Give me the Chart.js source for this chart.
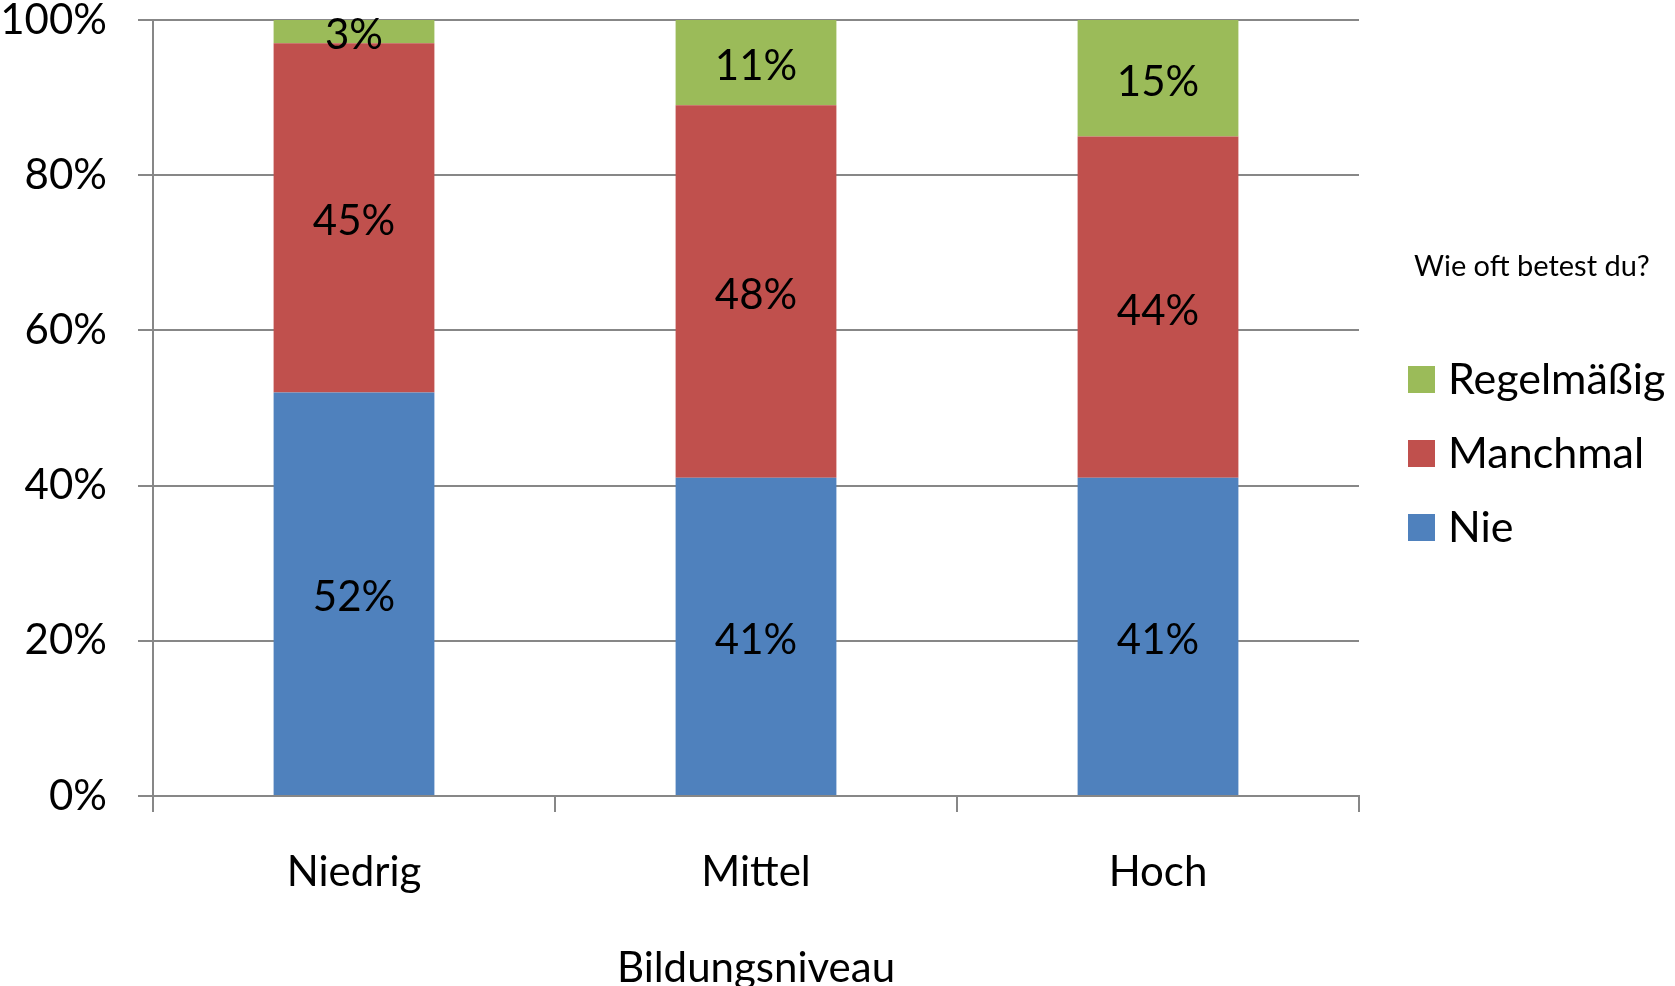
<!DOCTYPE html>
<html>
<head>
<meta charset="utf-8">
<script src="https://cdn.jsdelivr.net/npm/chart.js@4"></script>
<style>
  body { margin: 0; background: #fff; }
  #wrap { width: 1675px; height: 986px; position: relative; }
</style>
</head>
<body>
<div id="wrap"><canvas id="chart"></canvas></div>
<script>
// DATEN
const kategorien = ['Niedrig', 'Mittel', 'Hoch'];
const nie = [52, 41, 41];
const manchmal = [45, 48, 44];
const regelmaessig = [3, 11, 15];
const yTicks = [0, 20, 40, 60, 80, 100];

const schrift = 'Lato, "Open Sans", sans-serif';
const grau = '#878787';

// Beschriftung in den Balken
const balkenLabels = {
  id: 'balkenLabels',
  afterDatasetsDraw(chart) {
    const ctx = chart.ctx;
    ctx.save();
    ctx.font = '42px ' + schrift;
    ctx.fillStyle = '#000';
    ctx.textAlign = 'center';
    ctx.textBaseline = 'middle';
    chart.data.datasets.forEach((ds, i) => {
      const meta = chart.getDatasetMeta(i);
      meta.data.forEach((bar, j) => {
        const p = bar.getProps(['x', 'y', 'base'], true);
        ctx.fillText(ds.data[j] + '%', p.x, (p.y + p.base) / 2 + 4);
      });
    });
    ctx.restore();
  }
};

// Legende rechts
const legende = {
  id: 'legende',
  afterDraw(chart) {
    const ctx = chart.ctx;
    const x = chart.chartArea.right + 49;
    ctx.save();
    ctx.fillStyle = '#000';
    ctx.textAlign = 'left';
    ctx.textBaseline = 'middle';
    ctx.font = '29px ' + schrift;
    ctx.fillText('Wie oft betest du?', x + 6, 267);
    ctx.font = '43px ' + schrift;
    ctx.textBaseline = 'alphabetic';
    const ds = chart.data.datasets.slice().reverse();
    ds.forEach((d, i) => {
      const y = 366 + i * 74;
      ctx.fillStyle = d.backgroundColor;
      ctx.fillRect(x, y, 27, 27);
      ctx.fillStyle = '#000';
      ctx.fillText(d.label, x + 40, y + 28);
    });
    ctx.restore();
  }
};

document.addEventListener("DOMContentLoaded", () => {
  const ctx = document.getElementById('chart').getContext('2d');

  new Chart(ctx, {
    type: 'bar',
    data: {
      labels: kategorien,
      datasets: [
        { label: 'Nie', data: nie, backgroundColor: '#4F81BD' },
        { label: 'Manchmal', data: manchmal, backgroundColor: '#C0504D' },
        { label: 'Regelmäßig', data: regelmaessig, backgroundColor: '#9BBB59' }
      ]
    },
    options: {
      responsive: true,
      maintainAspectRatio: false,
      animation: false,
      devicePixelRatio: 1,
      layout: { padding: { left: 0, right: 316, top: 20, bottom: 0 } },
      datasets: { bar: { barPercentage: 0.4, categoryPercentage: 1.0 } },
      plugins: {
        legend: { display: false },
        tooltip: { enabled: false }
      },
      scales: {
        x: {
          stacked: true,
          grid: { drawOnChartArea: false, drawTicks: true, tickLength: 16, color: grau, lineWidth: 2, offset: true },
          border: { color: grau, width: 2 },
          ticks: { color: '#000', padding: 35, font: { family: schrift, size: 42, lineHeight: 1.2 } },
          title: {
            display: true, text: 'Bildungsniveau', color: '#000',
            font: { family: schrift, size: 42, lineHeight: 1 }, padding: { top: 0, bottom: -3 }
          },
          afterFit(scale) {
            scale.height = 190;
            scale.paddingTop = 0;
            scale.paddingBottom = 0;
          }
        },
        y: {
          stacked: true,
          min: 0,
          max: 100,
          afterBuildTicks(scale) { scale.ticks = yTicks.map(v => ({ value: v })); },
          grid: { color: grau, lineWidth: 2, tickLength: 15 },
          border: { color: grau, width: 2 },
          ticks: {
            color: '#000', padding: 31,
            font: { family: schrift, size: 42, lineHeight: 1 },
            callback: v => v + '%'
          },
          afterFit(scale) {
            scale.width = 153;
            scale.paddingTop = 0;
            scale.paddingBottom = 0;
          }
        }
      }
    },
    plugins: [balkenLabels, legende]
  });
});
</script>
</body>
</html>
